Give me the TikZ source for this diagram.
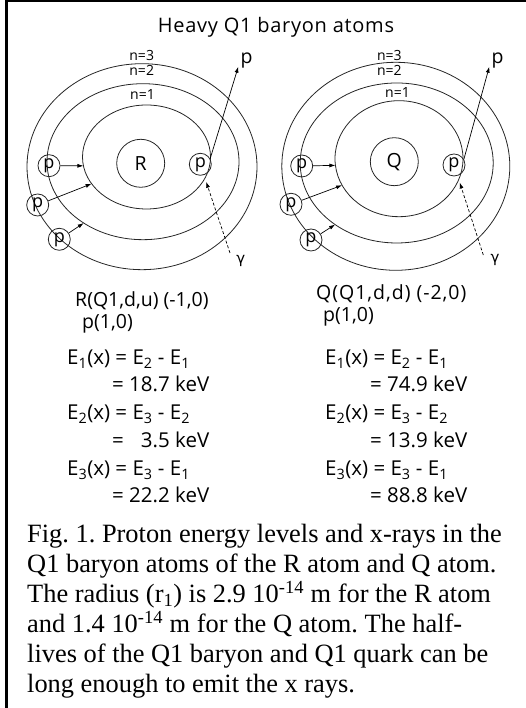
\documentclass[tikz,border=0pt]{standalone}
\usepackage{fontspec}
\setmainfont{Liberation Serif}
\setsansfont{Open Sans}
\newfontfamily\gamfont{DejaVu Sans}
\usetikzlibrary{arrows.meta, shapes.geometric}
\frenchspacing

\begin{document}
\begin{tikzpicture}[x=1pt, y=1pt, >={Latex[length=6pt, width=4pt]},
  lbl/.style={font=\sffamily\fontsize{19.5}{22}\selectfont, inner sep=0pt},
  eq/.style={font=\sffamily\fontsize{20.5}{23}\selectfont, inner sep=0pt, anchor=base west},
  lev/.style={font=\sffamily\fontsize{14}{16}\selectfont, inner sep=0pt, anchor=base},
  orbit/.style={ellipse, draw=black!85, line width=0.8pt, inner sep=0pt, outer sep=0pt},
  core/.style={circle, draw=black!85, line width=0.8pt, minimum size=48pt, inner sep=0pt,
               font=\sffamily\fontsize{19.5}{22}\selectfont},
  prot/.style={circle, draw=black!85, line width=0.8pt, minimum size=22pt, inner sep=0pt,
               font=\sffamily\fontsize{18}{20}\selectfont},
  gam/.style={font=\gamfont\fontsize{15}{17}\selectfont, inner sep=0pt},
  jump/.style={->, line width=0.7pt},
  ray/.style={->, line width=0.7pt, dash pattern=on 3pt off 2pt, shorten >=7pt}]
\useasboundingbox (0,0) rectangle (526,708);
% frame, only the top and left edges show
\draw[line width=2.5pt] (6.5,0) -- (6.5,707) -- (526,707);
\node[lbl, anchor=base, font=\sffamily\fontsize{20}{22}\selectfont\addfontfeatures{LetterSpace=3.5}]
  (title) at (276,675) {Heavy Q1 baryon atoms};
% R atom (left)
\node[orbit, minimum width=230pt, minimum height=206pt] (Ln3) at (142,541.3) {};
\node[orbit, minimum width=192pt, minimum height=156pt] (Ln2) at (143,546.3) {};
\node[orbit, minimum width=128pt, minimum height=104pt] (Ln1) at (146.5,551) {};
\node[core] (R) at (140.7,544.7) {R};
\node[lev] (Llab3) at (141.7,647.3) {n=3};
\node[lev] (Llab2) at (141.7,632) {n=2};
\node[lev] (Llab1) at (142.5,608) {n=1};
\node[prot] (pL1) at (49,542.3) {p};
\node[prot] (pL2) at (37.7,503) {p};
\node[prot] (pL3) at (59.3,468.7) {p};
\node[prot] (pL4) at (200.3,543.7) {p};
\coordinate (tipL) at (238.3,641.3);
\node[lbl, anchor=base west] (outL) at (240.5,644) {p};
\coordinate (gamL) at (230,455);
\node[gam] (gL) at (240.7,447) {γ};
\draw[jump] (pL1) -- (Ln1.188);
\draw[jump] (pL2) -- (Ln1.206);
\draw[jump] (pL3) -- (Ln2.226);
\draw[jump] (pL4.30) -- (tipL);
\draw[ray] (gamL) -- (pL4);
% Q atom (right)
\node[orbit, minimum width=228pt, minimum height=208pt] (Qn3) at (395.8,541.7) {};
\node[orbit, minimum width=193pt, minimum height=160pt] (Qn2) at (396.7,545) {};
\node[orbit, minimum width=128pt, minimum height=116pt] (Qn1) at (399,549.3) {};
\node[core] (Q) at (394.3,546.3) {Q};
\node[lev] (Qlab3) at (389.3,647.3) {n=3};
\node[lev] (Qlab2) at (389.3,632) {n=2};
\node[lev] (Qlab1) at (397.5,610) {n=1};
\node[prot] (pQ1) at (301.7,542) {p};
\node[prot] (pQ2) at (291,503.7) {p};
\node[prot] (pQ3) at (311,468) {p};
\node[prot] (pQ4) at (454,543) {p};
\coordinate (tipQ) at (489.3,641.3);
\node[lbl, anchor=base west] (outQ) at (491.5,644) {p};
\coordinate (gamQ) at (483.3,453);
\node[gam] (gQ) at (495,448) {γ};
\draw[jump] (pQ1) -- (Qn1.186);
\draw[jump] (pQ2) -- (Qn1.205);
\draw[jump] (pQ3) -- (Qn2.225);
\draw[jump] (pQ4.30) -- (tipQ);
\draw[ray] (gamQ) -- (pQ4);
% names and x-ray energies
\node[eq, font=\sffamily\fontsize{19.5}{22}\selectfont] (Rname) at (75,401.3) {R(Q1,d,u) (-1,0)};
\node[eq, font=\sffamily\fontsize{19.5}{22}\selectfont] (Rp) at (82,379) {p(1,0)};
\node[eq, font=\sffamily\fontsize{19.5}{22}\selectfont\addfontfeatures{LetterSpace=5}]
  (Qname) at (316,408) {Q(Q1,d,d) (-2,0)};
\node[eq, font=\sffamily\fontsize{19.5}{22}\selectfont] (Qp) at (323,386.3) {p(1,0)};
\node[eq] (RE1) at (67,343) {E\textsubscript{1}(x) = E\textsubscript{2} - E\textsubscript{1}};
\node[eq] (RV1) at (112,316) {= 18.7 keV};
\node[eq] (RE2) at (67,288) {E\textsubscript{2}(x) = E\textsubscript{3} - E\textsubscript{2}};
\node[eq] (RV2) at (112,260) {= \phantom{1}3.5 keV};
\node[eq] (RE3) at (67,232) {E\textsubscript{3}(x) = E\textsubscript{3} - E\textsubscript{1}};
\node[eq] (RV3) at (112,205) {= 22.2 keV};
\node[eq] (QE1) at (325,343) {E\textsubscript{1}(x) = E\textsubscript{2} - E\textsubscript{1}};
\node[eq] (QV1) at (370,316) {= 74.9 keV};
\node[eq] (QE2) at (325,288) {E\textsubscript{2}(x) = E\textsubscript{3} - E\textsubscript{2}};
\node[eq] (QV2) at (370,260) {= 13.9 keV};
\node[eq] (QE3) at (325,232) {E\textsubscript{3}(x) = E\textsubscript{3} - E\textsubscript{1}};
\node[eq] (QV3) at (370,205) {= 88.8 keV};
% caption
\node[anchor=north west, inner sep=0pt, align=left, font=\rmfamily\fontsize{26.4}{30}\selectfont]
  (caption) at (27,184)
  {Fig. 1. Proton energy levels and x-rays in the\\
   Q1 baryon atoms of the R atom and Q atom.\\
   The radius (r\textsubscript{1}) is 2.9 10\textsuperscript{-14} m for the R atom\\
   and 1.4 10\textsuperscript{-14} m for the Q atom. The half-\\
   lives of the Q1 baryon and Q1 quark can be\\
   long enough to emit the x rays.};
\end{tikzpicture}
\end{document}
